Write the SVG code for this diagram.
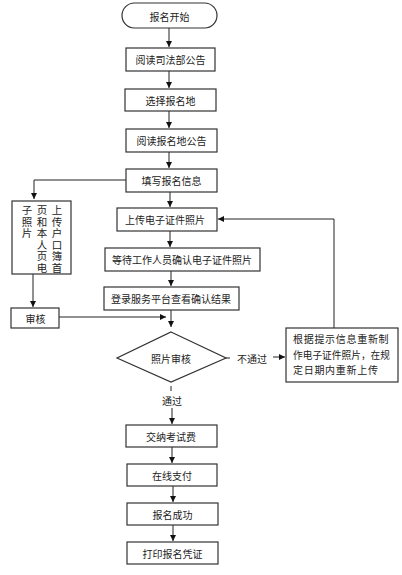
<svg xmlns="http://www.w3.org/2000/svg" width="402" height="575" viewBox="0 0 402 575">
<defs>
<marker id="ah" markerUnits="userSpaceOnUse" markerWidth="7" markerHeight="7" refX="6" refY="3" orient="auto">
<path d="M0,0 L6,3 L0,6 z" fill="#111"/>
</marker>
<style>
.box{fill:#fff;stroke:#333;stroke-width:1.2}
.t{font-family:"Noto Sans CJK SC","Liberation Serif",serif;font-size:10px;fill:#222;text-anchor:middle;dominant-baseline:central}
.tl{font-family:"Noto Sans CJK SC","Liberation Serif",serif;font-size:10px;fill:#222;letter-spacing:0.7px}
.tv{font-family:"Noto Sans CJK SC","Liberation Serif",serif;font-size:10.5px;fill:#222;writing-mode:vertical-rl;letter-spacing:1px}
.ln{fill:none;stroke:#222;stroke-width:1}
.ar{fill:none;stroke:#222;stroke-width:1;marker-end:url(#ah)}
</style>
</defs>
<rect width="402" height="575" fill="#fff"/>
<g id="connectors">
<line class="ar" x1="169" y1="28" x2="169" y2="47"/>
<line class="ar" x1="169" y1="71" x2="169" y2="88"/>
<line class="ar" x1="169" y1="111" x2="169" y2="128"/>
<line class="ar" x1="169" y1="152" x2="169" y2="168"/>
<line class="ar" x1="170" y1="192" x2="170" y2="207"/>
<line class="ar" x1="170" y1="231" x2="170" y2="247"/>
<line class="ar" x1="171" y1="271" x2="171" y2="286"/>
<line class="ar" x1="171" y1="310" x2="171" y2="327"/>
<polyline class="ar" points="126,180 34,180 34,199"/>
<line class="ar" x1="33" y1="274" x2="33" y2="307"/>
<line class="ar" x1="59" y1="317" x2="166" y2="317"/>
<polyline class="ar" points="334,328 334,219 218,219"/>
<line class="ln" x1="226" y1="358" x2="230" y2="358"/>
<line class="ar" x1="273" y1="357" x2="285" y2="357"/>
<line class="ln" x1="171" y1="386" x2="171" y2="391"/>
<line class="ar" x1="172" y1="408" x2="172" y2="424"/>
<line class="ar" x1="172" y1="447" x2="172" y2="463"/>
<line class="ar" x1="173" y1="486" x2="173" y2="502"/>
<line class="ar" x1="173" y1="525" x2="173" y2="541"/>
<text class="t" x="252" y="358">不通过</text>
<text class="t" x="172" y="400">通过</text>
</g>
<g id="start"><rect class="box" x="122" y="3" width="95" height="25" rx="12.5"/><text class="t" x="169.5" y="16">报名开始</text></g>
<g id="n1"><rect class="box" x="126" y="48" width="89" height="23"/><text class="t" x="170.5" y="59.5">阅读司法部公告</text></g>
<g id="n2"><rect class="box" x="125" y="89" width="91" height="22"/><text class="t" x="170.5" y="100">选择报名地</text></g>
<g id="n3"><rect class="box" x="126" y="129" width="91" height="23"/><text class="t" x="171.5" y="140.5">阅读报名地公告</text></g>
<g id="n4"><rect class="box" x="126" y="169" width="91" height="23"/><text class="t" x="171.5" y="180.5">填写报名信息</text></g>
<g id="n5"><rect class="box" x="117" y="208" width="100" height="23"/><text class="t" x="165" y="219.5">上传电子证件照片</text></g>
<g id="n6"><rect class="box" x="105" y="248" width="155" height="23"/><text class="t" x="182" y="259.5">等待工作人员确认电子证件照片</text></g>
<g id="n7"><rect class="box" x="104" y="287" width="135" height="23"/><text class="t" x="171" y="298.5">登录服务平台查看确认结果</text></g>
<g id="left"><rect class="box" x="12" y="201" width="59" height="73"/>
<text class="tv" x="57" y="205">上传户口簿首</text>
<text class="tv" x="42" y="205">页和本人页电</text>
<text class="tv" x="27" y="205">子照片</text></g>
<g id="review"><rect class="box" x="11" y="308" width="48" height="20"/><text class="t" x="35.5" y="318">审核</text></g>
<g id="decision"><polygon class="box" points="171,332 226,358 171,382 117,358"/><text class="t" x="171" y="358">照片审核</text></g>
<g id="redo"><rect class="box" x="286" y="328" width="112" height="54"/>
<text class="tl" x="293" y="343">根据提示信息重新制</text>
<text class="tl" x="293" y="359" style="letter-spacing:0" textLength="97" lengthAdjust="spacingAndGlyphs">作电子证件照片，在规</text>
<text class="tl" x="293" y="374">定日期内重新上传</text></g>
<g id="n8"><rect class="box" x="126" y="425" width="91" height="22"/><text class="t" x="171" y="436">交纳考试费</text></g>
<g id="n9"><rect class="box" x="127" y="464" width="90" height="22"/><text class="t" x="172" y="475">在线支付</text></g>
<g id="n10"><rect class="box" x="127" y="503" width="91" height="22"/><text class="t" x="172.5" y="514">报名成功</text></g>
<g id="n11"><rect class="box" x="127" y="542" width="91" height="22"/><text class="t" x="172.5" y="553">打印报名凭证</text></g>
</svg>
